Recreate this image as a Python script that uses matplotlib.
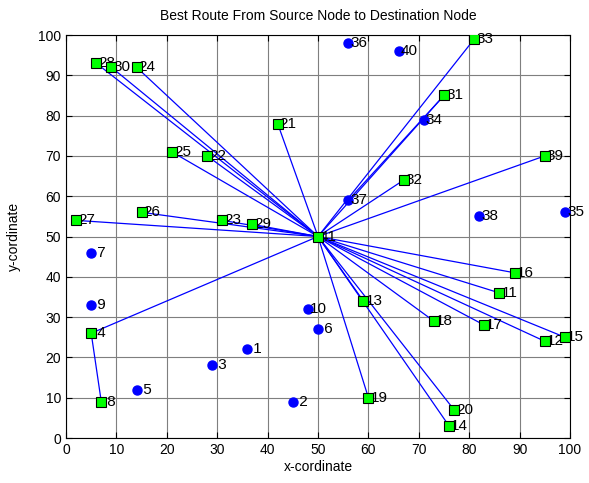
import numpy as np
import matplotlib
matplotlib.use('Agg')
import matplotlib.pyplot as plt

plt.rcParams['font.family'] = ['Liberation Sans', 'DejaVu Sans']

# node positions, node k is at (node_x[k-1], node_y[k-1]); node 41 is the source
node_x = [36, 45, 29, 5, 14, 50, 5, 7, 5, 48,
          86, 95, 59, 76, 99, 89, 83, 73, 60, 77,
          42, 28, 31, 14, 21, 15, 2, 6, 37, 9,
          75, 67, 81, 71, 99, 56, 56, 82, 95, 66,
          50]
node_y = [22, 9, 18, 26, 12, 27, 46, 9, 33, 32,
          36, 24, 34, 3, 25, 41, 28, 29, 10, 7,
          78, 70, 54, 92, 71, 56, 54, 93, 53, 92,
          85, 64, 99, 79, 56, 98, 59, 55, 70, 96,
          50]

# nodes on the selected routes (green squares)
route_nodes = [4, 8, 11, 12, 13, 14, 15, 16, 17, 18, 19, 20, 21, 22, 23,
               24, 25, 26, 27, 28, 29, 30, 31, 32, 33, 39, 41]

# route hops (from node, to node)
hops = [(41, 21), (41, 22), (41, 25), (41, 24), (41, 30), (41, 28),
        (41, 26), (41, 27), (41, 23), (41, 29), (41, 32), (41, 31),
        (37, 31), (41, 33), (41, 39), (41, 16), (41, 11), (41, 15),
        (41, 12), (41, 17), (41, 18), (41, 13), (41, 20), (41, 14),
        (41, 19), (41, 4), (4, 8)]

fig = plt.figure(figsize=(5.89, 4.83), dpi=100)
ax = fig.add_axes([66/589, 45/483, 504/589, 403/483])

for a, b in hops:
    ax.plot([node_x[a-1], node_x[b-1]], [node_y[a-1], node_y[b-1]],
            color='blue', lw=0.9, zorder=2)

ax.plot(node_x, node_y, 'o', color='blue', ms=6.5, mec='blue', zorder=3)
for k in range(len(node_x)):
    ax.text(node_x[k] + 0.4, node_y[k], '%2d' % (k + 1), fontsize=11,
            va='center', ha='left', zorder=4)

rx = [node_x[k-1] for k in route_nodes]
ry = [node_y[k-1] for k in route_nodes]
ax.plot(rx, ry, 's', color='#00ff00', mec='black', mew=0.8, ms=7.5, zorder=5)

ax.set_xlim(0, 100)
ax.set_ylim(0, 100)
ax.set_xticks(np.arange(0, 101, 10))
ax.set_yticks(np.arange(0, 101, 10))
ax.grid(True, color='#7f7f7f', linestyle='-', linewidth=0.8)
ax.set_axisbelow(True)
ax.tick_params(direction='in', top=True, right=True, length=4, labelsize=10)
for s in ax.spines.values():
    s.set_linewidth(0.8)

ax.set_title('Best Route From Source Node to Destination Node', fontsize=10, pad=11)
ax.set_xlabel('x-cordinate', fontsize=10, labelpad=2)
ax.set_ylabel('y-cordinate', fontsize=10, labelpad=12)

fig.savefig('out.png', dpi=100)
